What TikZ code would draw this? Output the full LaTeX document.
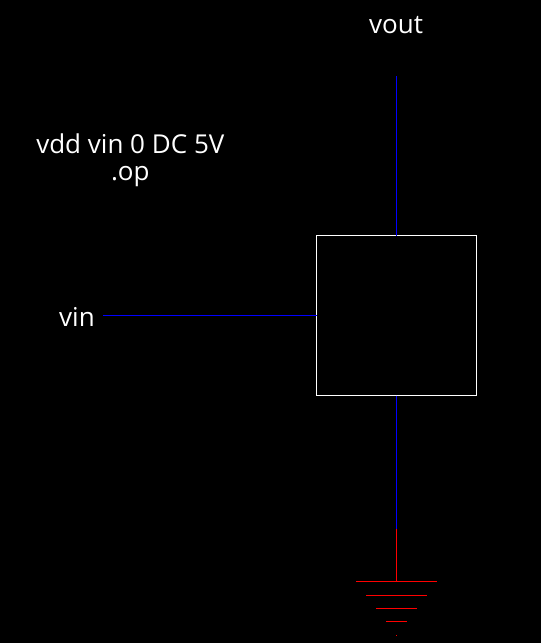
\documentclass[tikz,border=0pt]{standalone}
\usepackage{fontspec}
\setmainfont{Open Sans}
\tikzset{
  lbl/.style={text=white,font=\fontsize{26}{27}\selectfont,inner sep=0pt,align=center},
  wire/.style={line width=1pt,blue},
  gnd/.style={line width=1pt,red},
  part/.style={draw=white,line width=1pt,minimum size=160pt,inner sep=0pt,outer sep=0pt}
}
\begin{document}
\begin{tikzpicture}[x=1pt,y=-1pt]
\fill[black] (0,0) rectangle (541,643);
\useasboundingbox (0,0) rectangle (541,643);
\node[part] (box) at (396.5,315.5) {};
\node[lbl] (vout) at (396,25) {vout};
\node[lbl] (vin) at (77,317) {vin};
\node[lbl] (cmd) at (130.3,160) {vdd vin 0 DC 5V\\.op};
\coordinate (topend) at (396.5,76);
\coordinate (vinend) at (103,315.5);
\coordinate (mid) at (396.5,529);
\coordinate (g1) at (396.5,581.5);
\coordinate (g1l) at (356,581.5);
\coordinate (g1r) at (437,581.5);
\coordinate (g2l) at (366,595.5);
\coordinate (g2r) at (427,595.5);
\coordinate (g3l) at (376,608.5);
\coordinate (g3r) at (417,608.5);
\coordinate (g4l) at (386,621.5);
\coordinate (g4r) at (407,621.5);
\coordinate (g5l) at (396,635.5);
\coordinate (g5r) at (397,635.5);
\draw[wire] (topend) -- (box.north);
\draw[wire] (vinend) -- (box.west);
\draw[wire] (box.south) -- (mid);
\draw[gnd] (mid) -- (g1);
\draw[gnd] (g1l) -- (g1r);
\draw[gnd] (g2l) -- (g2r);
\draw[gnd] (g3l) -- (g3r);
\draw[gnd] (g4l) -- (g4r);
\draw[gnd] (g5l) -- (g5r);
\end{tikzpicture}
\end{document}
